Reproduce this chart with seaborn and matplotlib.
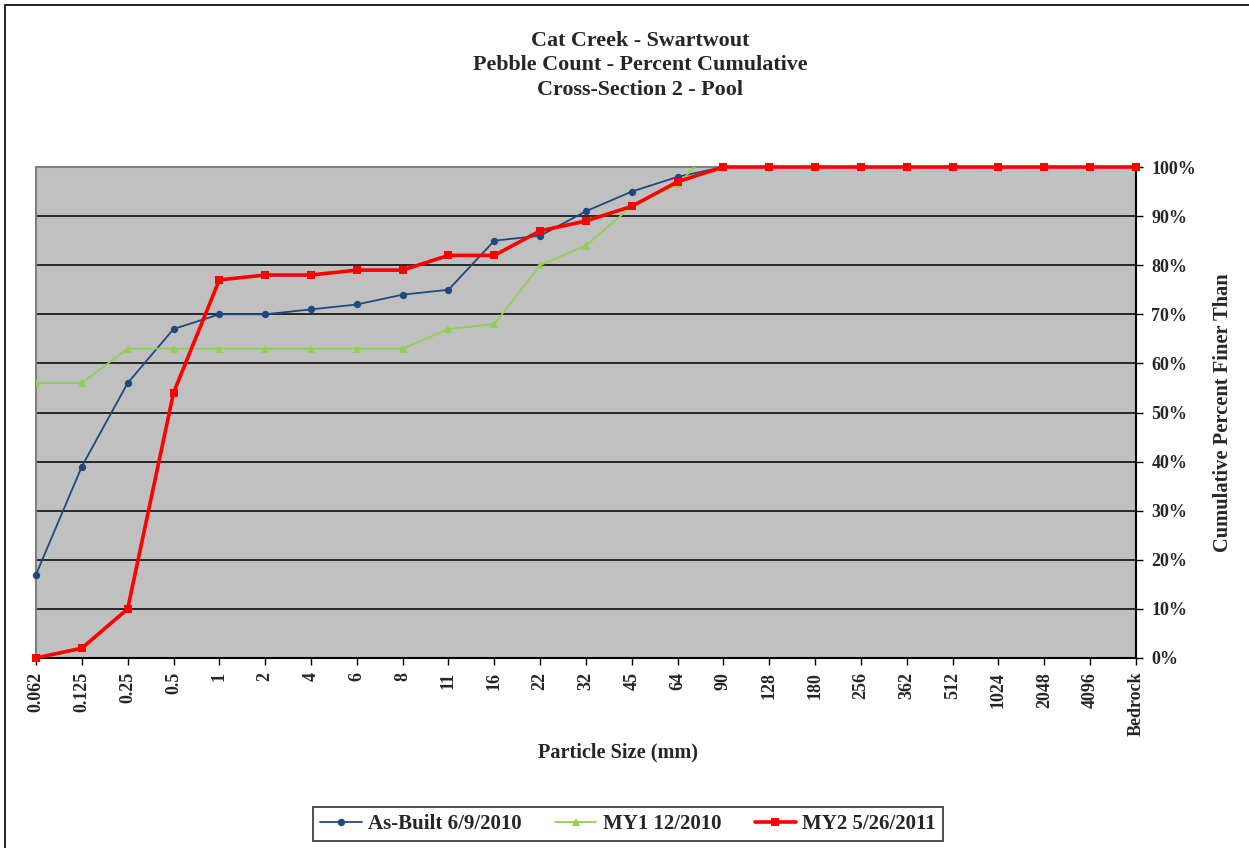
import matplotlib
matplotlib.use("Agg")
import matplotlib.pyplot as plt
import seaborn as sns
import pandas as pd
from matplotlib.patches import Rectangle

categories = ["0.062", "0.125", "0.25", "0.5", "1", "2", "4", "6", "8", "11", "16", "22",
              "32", "45", "64", "90", "128", "180", "256", "362", "512", "1024", "2048",
              "4096", "Bedrock"]
as_built = [17, 39, 56, 67, 70, 70, 71, 72, 74, 75, 85, 86, 91, 95, 98, 100, 100, 100,
            100, 100, 100, 100, 100, 100, 100]
my1 = [56, 56, 63, 63, 63, 63, 63, 63, 63, 67, 68, 80, 84, 92, 96.5, 106, 106, 106,
       106, 106, 106, 106, 106, 106, 106]
my2 = [0, 2, 10, 54, 77, 78, 78, 79, 79, 82, 82, 87, 89, 92, 97, 100, 100, 100, 100,
       100, 100, 100, 100, 100, 100]
series_names = ["As-Built 6/9/2010", "MY1 12/2010", "MY2 5/26/2011"]
yticks = [0, 10, 20, 30, 40, 50, 60, 70, 80, 90, 100]

sns.set_theme(style="white")
plt.rcParams["font.family"] = ["Liberation Serif", "DejaVu Serif"]
plt.rcParams["font.weight"] = "bold"

frames = []
for name, vals in zip(series_names, [as_built, my1, my2]):
    frames.append(pd.DataFrame({"pos": range(len(categories)), "value": vals, "series": name}))
df = pd.concat(frames, ignore_index=True)

fig = plt.figure(figsize=(12.49, 8.48), dpi=100)
ax = fig.add_axes([36 / 1249, 1 - 658 / 848, 1100 / 1249, 491 / 848])
ax.set_facecolor("#C0C0C0")

styles = {
    "As-Built 6/9/2010": dict(color="#1F497D", marker="o", lw=1.3, ms=5.3, clip=False),
    "MY1 12/2010": dict(color="#92D050", marker="^", lw=1.3, ms=5.6, clip=True),
    "MY2 5/26/2011": dict(color="#FF0000", marker="s", lw=2.6, ms=5.8, clip=False),
}
for name in series_names:
    st = styles[name]
    sub = df[df["series"] == name]
    sns.lineplot(data=sub, x="pos", y="value", ax=ax, color=st["color"], marker=st["marker"],
                 linewidth=st["lw"], markersize=st["ms"], markeredgewidth=0,
                 label=name, zorder=3)
    ax.lines[-1].set_clip_on(st["clip"])

ax.set_xlim(0, len(categories) - 1)
ax.set_ylim(0, 100)
ax.set_xticks(range(len(categories)))
ax.set_xticklabels(categories, rotation=90, fontsize=13, fontweight="bold")
ax.yaxis.tick_right()
ax.yaxis.set_label_position("right")
ax.set_yticks(yticks)
ax.set_yticklabels([f"{v}%" for v in yticks], fontsize=13, fontweight="bold")
ax.tick_params(axis="both", direction="out", length=5, width=1, color="black",
               bottom=True, right=True, left=False)
ax.tick_params(axis="y", pad=6)
ax.tick_params(axis="x", pad=5)
ax.grid(axis="y", color="black", linewidth=1.1)
ax.grid(axis="x", visible=False)
ax.set_axisbelow(True)
for s in ["top", "left"]:
    ax.spines[s].set_color("#808080")
    ax.spines[s].set_linewidth(1.5)
for s in ["bottom", "right"]:
    ax.spines[s].set_color("black")
    ax.spines[s].set_linewidth(1.5)

ax.set_xlabel("")
ax.set_ylabel("Cumulative Percent Finer Than", fontsize=14.8, fontweight="bold", labelpad=12)
fig.text(618 / 1249, 1 - 752 / 848, "Particle Size (mm)", ha="center", va="center",
         fontsize=14.6, fontweight="bold")

fig.text(640 / 1249, 1 - 41 / 848, "Cat Creek - Swartwout", ha="center", va="center",
         fontsize=15.8, fontweight="bold")
fig.text(640 / 1249, 1 - 65 / 848, "Pebble Count - Percent Cumulative", ha="center",
         va="center", fontsize=15.8, fontweight="bold")
fig.text(640 / 1249, 1 - 90 / 848, "Cross-Section 2 - Pool", ha="center", va="center",
         fontsize=15.8, fontweight="bold")

ax.get_legend().remove()
handles, labels = ax.get_legend_handles_labels()
leg = fig.legend(handles, labels, loc="center", bbox_to_anchor=(628 / 1249, 1 - 824 / 848),
                 ncol=3, frameon=True, fancybox=False, edgecolor="black",
                 prop={"weight": "bold", "size": 15}, handlelength=2.0, handletextpad=0.3,
                 columnspacing=1.6, borderpad=0.35)
leg.get_frame().set_linewidth(1.2)

fig.patches.append(Rectangle((5 / 1249, -0.05), 1.2, 1 - 5 / 848 + 0.05,
                             transform=fig.transFigure, fill=False, edgecolor="black",
                             linewidth=1.2))

fig.savefig("out.png", dpi=100, facecolor="white")
